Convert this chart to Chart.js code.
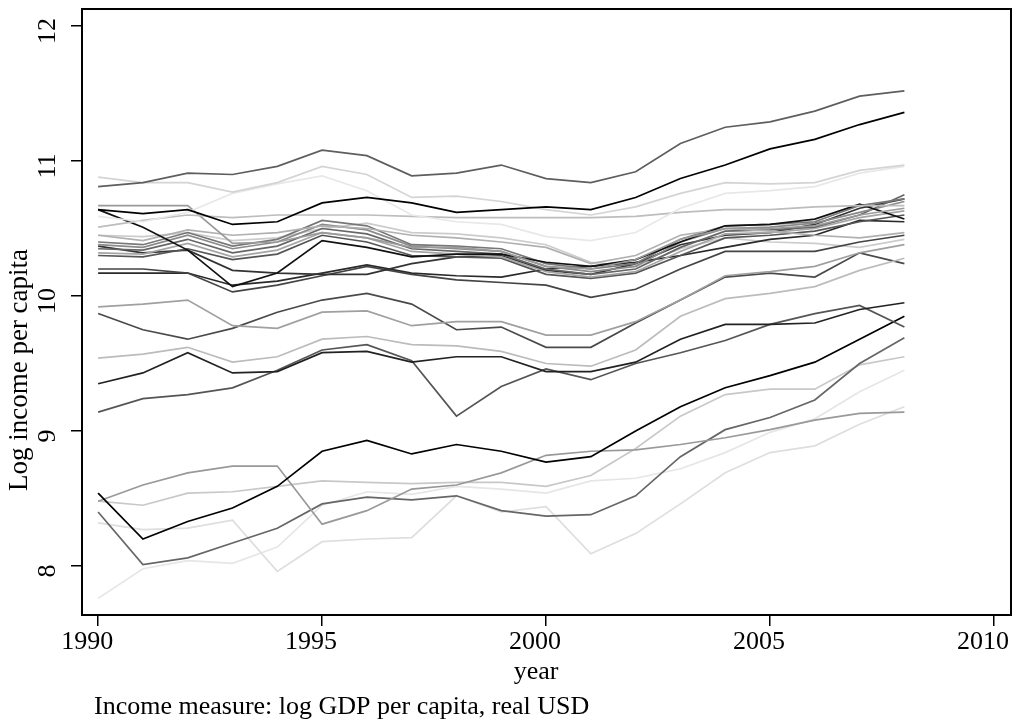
<!DOCTYPE html>
<html>
<head>
<meta charset="utf-8">
<script src="https://cdn.jsdelivr.net/npm/chart.js@4.4.1/dist/chart.umd.min.js"></script>
<style>
  html, body { margin: 0; padding: 0; background: #fff; }
  #wrap { width: 1018px; height: 727px; }
</style>
</head>
<body>
<div id="wrap"><canvas id="chart"></canvas></div>
<script>
// years on the x axis, one value per year per country line
const years = [1990, 1991, 1992, 1993, 1994, 1995, 1996, 1997, 1998, 1999,
  2000, 2001, 2002, 2003, 2004, 2005, 2006, 2007, 2008];

const xTicks = [1990, 1995, 2000, 2005, 2010];
const yTicks = [8, 9, 10, 11, 12];

// log GDP per capita, one row per country
const seriesValues = [
  [10.81,10.84,10.91,10.90,10.96,11.08,11.04,10.89,10.91,10.97,10.87,10.84,10.92,11.13,11.25,11.29,11.37,11.48,11.52],
  [10.64,10.61,10.64,10.53,10.55,10.69,10.73,10.69,10.62,10.64,10.66,10.64,10.73,10.87,10.97,11.09,11.16,11.27,11.36],
  [10.88,10.84,10.84,10.77,10.84,10.96,10.90,10.73,10.74,10.70,10.64,10.60,10.66,10.76,10.84,10.83,10.84,10.93,10.97],
  [10.59,10.55,10.62,10.76,10.83,10.89,10.78,10.60,10.55,10.53,10.44,10.41,10.47,10.65,10.76,10.78,10.81,10.91,10.96],
  [10.51,10.56,10.60,10.58,10.60,10.60,10.60,10.59,10.58,10.58,10.58,10.58,10.59,10.62,10.64,10.64,10.66,10.67,10.67],
  [10.67,10.67,10.67,10.39,10.40,10.47,10.43,10.36,10.36,10.33,10.22,10.20,10.27,10.42,10.50,10.50,10.52,10.60,10.65],
  [10.64,10.51,10.34,10.07,10.17,10.41,10.36,10.29,10.31,10.31,10.25,10.22,10.27,10.40,10.52,10.53,10.57,10.68,10.57],
  [10.45,10.41,10.49,10.45,10.47,10.52,10.50,10.45,10.43,10.40,10.36,10.24,10.30,10.45,10.50,10.48,10.45,10.43,10.47],
  [10.40,10.38,10.47,10.37,10.42,10.56,10.52,10.38,10.37,10.35,10.24,10.20,10.24,10.42,10.52,10.53,10.55,10.67,10.72],
  [10.38,10.36,10.45,10.35,10.40,10.53,10.49,10.37,10.35,10.33,10.22,10.18,10.22,10.40,10.50,10.51,10.54,10.62,10.70],
  [10.35,10.34,10.42,10.32,10.37,10.50,10.46,10.35,10.33,10.31,10.20,10.16,10.20,10.36,10.48,10.49,10.51,10.60,10.75],
  [10.32,10.31,10.39,10.29,10.34,10.47,10.43,10.33,10.31,10.29,10.18,10.14,10.18,10.33,10.46,10.47,10.50,10.58,10.63],
  [10.30,10.29,10.35,10.27,10.31,10.45,10.40,10.30,10.29,10.28,10.16,10.13,10.17,10.30,10.43,10.45,10.48,10.55,10.60],
  [10.37,10.32,10.34,10.19,10.17,10.16,10.16,10.24,10.29,10.30,10.19,10.16,10.24,10.38,10.45,10.47,10.53,10.65,10.72],
  [10.20,10.20,10.17,10.03,10.08,10.15,10.22,10.16,10.12,10.10,10.08,9.99,10.05,10.20,10.33,10.33,10.33,10.40,10.45],
  [10.17,10.17,10.17,10.08,10.11,10.17,10.23,10.17,10.15,10.14,10.20,10.22,10.25,10.30,10.36,10.42,10.45,10.56,10.55],
  [10.45,10.44,10.47,10.41,10.43,10.50,10.54,10.47,10.46,10.43,10.38,10.25,10.22,10.35,10.43,10.40,10.39,10.36,10.42],
  [9.92,9.94,9.97,9.78,9.76,9.88,9.89,9.78,9.81,9.81,9.71,9.71,9.81,9.97,10.15,10.18,10.22,10.32,10.38],
  [9.54,9.57,9.62,9.51,9.55,9.68,9.70,9.64,9.63,9.59,9.50,9.48,9.60,9.85,9.98,10.02,10.07,10.19,10.28],
  [9.87,9.75,9.68,9.76,9.88,9.97,10.02,9.94,9.75,9.77,9.62,9.62,9.80,9.97,10.14,10.17,10.14,10.32,10.24],
  [9.35,9.43,9.58,9.43,9.44,9.58,9.59,9.51,9.55,9.55,9.44,9.44,9.51,9.68,9.79,9.79,9.80,9.90,9.95],
  [9.14,9.24,9.27,9.32,9.45,9.60,9.64,9.52,9.11,9.33,9.46,9.38,9.50,9.58,9.67,9.79,9.87,9.93,9.77],
  [8.54,8.20,8.33,8.43,8.59,8.85,8.93,8.83,8.90,8.85,8.77,8.81,9.00,9.18,9.32,9.41,9.51,9.68,9.85],
  [8.48,8.60,8.69,8.74,8.74,8.31,8.41,8.57,8.60,8.69,8.82,8.85,8.86,8.90,8.95,9.01,9.08,9.13,9.14],
  [8.40,8.01,8.06,8.17,8.28,8.46,8.51,8.49,8.52,8.41,8.37,8.38,8.52,8.81,9.01,9.10,9.23,9.50,9.69],
  [8.48,8.45,8.54,8.55,8.59,8.63,8.62,8.61,8.62,8.62,8.59,8.67,8.87,9.11,9.27,9.31,9.31,9.49,9.55],
  [8.32,8.27,8.28,8.34,7.96,8.18,8.20,8.21,8.52,8.40,8.44,8.09,8.24,8.46,8.69,8.84,8.89,9.05,9.18],
  [7.76,7.98,8.04,8.02,8.14,8.45,8.55,8.53,8.59,8.57,8.54,8.63,8.65,8.72,8.84,8.99,9.09,9.29,9.45]
];

const seriesGrays = [
  '#5e5e5e', '#000000', '#d4d4d4', '#e8e8e8', '#bdbdbd', '#9a9a9a', '#111111',
  '#b0b0b0', '#777777', '#8a8a8a', '#666666', '#a5a5a5', '#555555', '#333333',
  '#444444', '#2a2a2a', '#cccccc', '#a0a0a0', '#bcbcbc', '#4a4a4a', '#222222',
  '#555555', '#000000', '#999999', '#666666', '#c8c8c8', '#dedede', '#e6e6e6'
];

const FONT = '"Liberation Serif", "Times New Roman", serif';

const datasets = seriesValues.map((vals, i) => ({
  data: vals.map((v, j) => ({ x: years[j], y: v })),
  borderColor: seriesGrays[i],
  borderWidth: 1.7,
  pointRadius: 0,
  fill: false,
  tension: 0
}));

// labels, titles and the frame drawn the way Stata lays them out
const stataFrame = {
  id: 'stataFrame',
  afterDraw(chart) {
    const { ctx, chartArea, scales } = chart;
    ctx.save();
    ctx.strokeStyle = '#000';
    ctx.lineWidth = 2;
    ctx.strokeRect(chartArea.left, chartArea.top,
      chartArea.right - chartArea.left, chartArea.bottom - chartArea.top);

    ctx.fillStyle = '#000';
    ctx.font = '26px ' + FONT;
    ctx.textAlign = 'center';
    ctx.textBaseline = 'middle';
    yTicks.forEach(v => {
      const py = scales.y.getPixelForValue(v);
      ctx.save();
      ctx.translate(48, py + 5);
      ctx.rotate(-Math.PI / 2);
      ctx.fillText(String(v), 0, 0);
      ctx.restore();
    });

    ctx.save();
    ctx.font = '27px ' + FONT;
    ctx.translate(20, 370);
    ctx.rotate(-Math.PI / 2);
    ctx.fillText('Log income per capita', 0, 0);
    ctx.restore();

    ctx.textBaseline = 'alphabetic';
    ctx.fillText('year', 536, 679);
    ctx.textAlign = 'left';
    ctx.fillText('Income measure: log GDP per capita, real USD', 94, 714);
    ctx.restore();
  }
};

new Chart(document.getElementById('chart'), {
  type: 'line',
  data: { datasets },
  options: {
    responsive: true,
    maintainAspectRatio: false,
    animation: false,
    events: [],
    layout: { padding: { top: 9, right: 7, left: 0, bottom: 0 } },
    plugins: { legend: { display: false }, tooltip: { enabled: false } },
    scales: {
      x: {
        type: 'linear',
        min: 1989.64,
        max: 2010.38,
        afterBuildTicks: s => { s.ticks = xTicks.map(v => ({ value: v })); },
        afterFit: s => { s.height = 112; s.paddingLeft = 0; s.paddingRight = 0; },
        border: { display: false },
        grid: { display: true, drawOnChartArea: false, drawTicks: true, tickLength: 11, lineWidth: 1.5, color: '#000' },
        ticks: {
          color: '#000',
          font: { family: FONT, size: 26 },
          padding: 1,
          labelOffset: -11,
          maxRotation: 0,
          autoSkip: false,
          callback: v => String(v)
        }
      },
      y: {
        type: 'linear',
        min: 7.637,
        max: 12.126,
        afterBuildTicks: s => { s.ticks = yTicks.map(v => ({ value: v })); },
        afterFit: s => { s.width = 82; s.paddingTop = 0; s.paddingBottom = 0; },
        border: { display: false },
        grid: { display: true, drawOnChartArea: false, drawTicks: true, tickLength: 11, lineWidth: 1.5, color: '#000' },
        ticks: { display: false }
      }
    }
  },
  plugins: [stataFrame]
});
</script>
</body>
</html>
